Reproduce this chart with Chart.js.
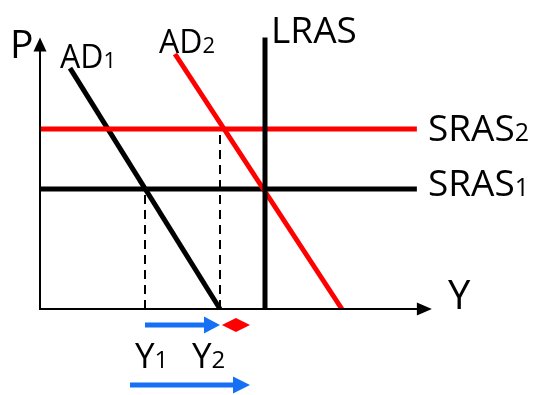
<!DOCTYPE html>
<html>
<head>
<meta charset="utf-8">
<script src="https://cdn.jsdelivr.net/npm/chart.js@4/dist/chart.umd.min.js"></script>
<style>
  html, body { margin: 0; padding: 0; background: #fff; }
  #wrap { width: 535px; height: 395px; position: relative; }
</style>
</head>
<body>
<div id="wrap"><canvas id="adas"></canvas></div>
<script>
var outputY1 = 2.8;
var outputY2 = 4.8;
var outputLRAS = 6;
var priceSRAS1 = 4;
var priceSRAS2 = 6;
var ad1Points = [{x: 0.8, y: 8.03}, {x: 4.8, y: 0}];
var ad2Points = [{x: 3.6, y: 8.5}, {x: 8.05, y: 0}];
var srasEnd = 10.05;
var lrasTop = 9.05;
var axisEndX = 10.45;
var axisEndY = 9.05;
// shift arrows drawn below the output axis
var shiftRow1 = -0.53;
var shiftRow2 = -2.53;
var totalShift = [2.4, 5.6];
var gapShift = [4.85, 5.6];

var BLUE = 'rgb(22, 112, 245)';
var RED = '#ff0000';
var FONT = '"Open Sans", "Noto Sans", sans-serif';

function seg(x0, y0, x1, y1) {
    return [{x: x0, y: y0}, {x: x1, y: y1}];
}

function lineSet(name, pts, color, width, extra) {
    var ds = {
        label: name,
        data: pts,
        showLine: true,
        borderColor: color,
        backgroundColor: color,
        borderWidth: width,
        pointRadius: 0,
        pointHoverRadius: 0,
        borderCapStyle: 'butt'
    };
    for (var k in extra) ds[k] = extra[k];
    return ds;
}

// draws shaft + arrowhead (or a diamond) for datasets flagged with "arrow"
var arrowPlugin = {
    id: 'arrows',
    afterDatasetsDraw: function(chart) {
        var ctx = chart.ctx;
        chart.data.datasets.forEach(function(ds, i) {
            if (!ds.arrow) return;
            var pts = chart.getDatasetMeta(i).data;
            var a = pts[0], b = pts[pts.length - 1];
            var ang = Math.atan2(b.y - a.y, b.x - a.x);
            var dist = Math.hypot(b.x - a.x, b.y - a.y);
            ctx.save();
            ctx.translate(a.x, a.y);
            ctx.rotate(ang);
            ctx.fillStyle = ds.arrow.color;
            ctx.strokeStyle = ds.arrow.color;
            if (ds.arrow.diamond) {
                var h = ds.arrow.width / 2;
                ctx.beginPath();
                ctx.moveTo(0, 0);
                ctx.lineTo(dist / 2, -h);
                ctx.lineTo(dist, 0);
                ctx.lineTo(dist / 2, h);
                ctx.closePath();
                ctx.fill();
            } else {
                var len = ds.arrow.len, w = ds.arrow.width;
                ctx.lineWidth = ds.arrow.lineWidth;
                ctx.beginPath();
                ctx.moveTo(0, 0);
                ctx.lineTo(dist - len + 1, 0);
                ctx.stroke();
                ctx.beginPath();
                ctx.moveTo(dist, 0);
                ctx.lineTo(dist - len, -w / 2);
                ctx.lineTo(dist - len, w / 2);
                ctx.closePath();
                ctx.fill();
            }
            ctx.restore();
        });
    }
};

function drawLabel(ctx, main, sub, x, y, size, subSize) {
    ctx.font = size + 'px ' + FONT;
    ctx.fillText(main, x, y);
    if (sub) {
        var w = ctx.measureText(main).width;
        ctx.font = subSize + 'px ' + FONT;
        ctx.fillText(sub, x + w, y);
    }
}

// curve labels, anchored on the data through the scales
var labelPlugin = {
    id: 'curveLabels',
    afterDraw: function(chart) {
        var ctx = chart.ctx;
        var sx = chart.scales.x, sy = chart.scales.y;
        var px = function(v) { return sx.getPixelForValue(v); };
        var py = function(v) { return sy.getPixelForValue(v); };
        ctx.save();
        ctx.fillStyle = '#000';
        ctx.textBaseline = 'alphabetic';
        ctx.textAlign = 'left';
        drawLabel(ctx, 'P', null, px(0) - 30, py(axisEndY) + 20, 39);
        drawLabel(ctx, 'AD', '1', px(ad1Points[0].x) - 10, py(ad1Points[0].y), 32, 22);
        drawLabel(ctx, 'AD', '2', px(ad2Points[0].x) - 16, py(ad2Points[0].y) - 1, 32, 22);
        drawLabel(ctx, 'LRAS', null, px(outputLRAS) + 6, py(lrasTop) + 5, 37);
        drawLabel(ctx, 'SRAS', '2', px(srasEnd) + 11, py(priceSRAS2) + 12, 37, 25);
        drawLabel(ctx, 'SRAS', '1', px(srasEnd) + 11, py(priceSRAS1) + 7, 37, 25);
        drawLabel(ctx, 'Y', null, px(axisEndX) + 16, py(0), 40);
        drawLabel(ctx, 'Y', '1', px(outputY1) - 10, py(0) + 59, 35, 24);
        drawLabel(ctx, 'Y', '2', px(outputY2) - 28, py(0) + 59, 35, 24);
        ctx.restore();
    }
};

window.onload = function() {
    var ctx = document.getElementById('adas').getContext('2d');
    var datasets = [
        lineSet('LRAS', seg(outputLRAS, 0, outputLRAS, lrasTop), '#000', 5),
        lineSet('SRAS2', seg(0, priceSRAS2, srasEnd, priceSRAS2), RED, 5),
        lineSet('AD2', ad2Points, RED, 5),
        lineSet('AD1', ad1Points, '#000', 5),
        lineSet('SRAS1', seg(0, priceSRAS1, srasEnd, priceSRAS1), '#000', 5),
        lineSet('Y1 guide', seg(outputY1, 0, outputY1, priceSRAS1), '#000', 2, {borderDash: [9, 6]}),
        lineSet('Y2 guide', seg(outputY2, 0, outputY2, priceSRAS2), '#000', 2, {borderDash: [9, 6]}),
        lineSet('P axis', seg(0, -0.02, 0, axisEndY), '#000', 0,
            {arrow: {color: '#000', lineWidth: 2, len: 14, width: 13}}),
        lineSet('Y axis', seg(-0.027, 0, axisEndX, 0), '#000', 0,
            {arrow: {color: '#000', lineWidth: 2, len: 15, width: 13}}),
        lineSet('Y1 to Y2', seg(outputY1, shiftRow1, outputY2, shiftRow1), BLUE, 0,
            {arrow: {color: BLUE, lineWidth: 5, len: 16, width: 17}}),
        lineSet('gap', seg(gapShift[0], shiftRow1, gapShift[1], shiftRow1), RED, 0,
            {arrow: {color: RED, diamond: true, width: 14}}),
        lineSet('total', seg(totalShift[0], shiftRow2, totalShift[1], shiftRow2), BLUE, 0,
            {arrow: {color: BLUE, lineWidth: 5, len: 17, width: 17}})
    ];

    new Chart(ctx, {
        type: 'scatter',
        data: { datasets: datasets },
        options: {
            responsive: true,
            maintainAspectRatio: false,
            animation: false,
            layout: { padding: 0 },
            plugins: {
                legend: { display: false },
                tooltip: { enabled: false }
            },
            scales: {
                x: { type: 'linear', display: false, min: -40 / 37.5, max: 495 / 37.5 },
                y: { type: 'linear', display: false, min: -86 / 30, max: 309 / 30 }
            }
        },
        plugins: [arrowPlugin, labelPlugin]
    });
};
</script>
</body>
</html>
